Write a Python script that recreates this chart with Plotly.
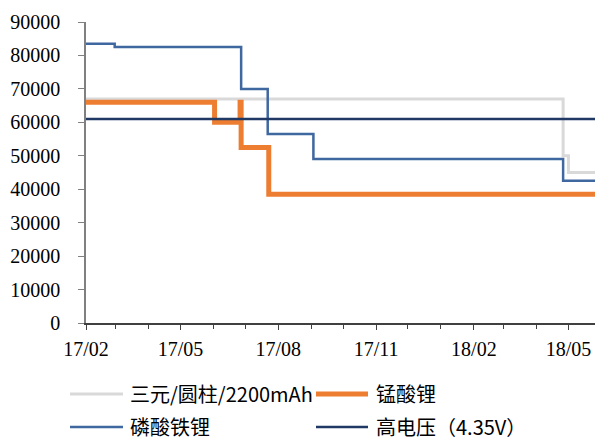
import plotly.graph_objects as go

# ---- data ----
ternary_dates = ["2017-02-01", "2018-04-26", "2018-05-01", "2018-05-26"]
ternary_vals = [67000, 50000, 45000, 45000]

lmo_dates = ["2017-02-01", "2017-06-02", "2017-06-26", "2017-06-27", "2017-07-23", "2018-05-26"]
lmo_vals = [66000, 60000, 66000, 52500, 38500, 38500]

lfp_dates = ["2017-02-01", "2017-02-28", "2017-06-27", "2017-07-22", "2017-09-03", "2018-04-26", "2018-05-26"]
lfp_vals = [83500, 82500, 70000, 56500, 49000, 42500, 42500]

hv_dates = ["2017-02-01", "2018-05-26"]
hv_vals = [61000, 61000]

names = ["三元/圆柱/2200mAh", "锰酸锂", "磷酸铁锂", "高电压（4.35V）"]
colors = ["#d9d9d9", "#ed7d31", "#3f67a0", "#1f3864"]
widths = [3, 5, 2.5, 2.5]
y_ticks = [0, 10000, 20000, 30000, 40000, 50000, 60000, 70000, 80000, 90000]

series = [(ternary_dates, ternary_vals), (lmo_dates, lmo_vals),
          (lfp_dates, lfp_vals), (hv_dates, hv_vals)]

fig = go.Figure()
for (d, v), n, c, w in zip(series, names, colors, widths):
    fig.add_trace(go.Scatter(x=d, y=v, name=n, mode="lines", line_shape="hv",
                             line=dict(color=c, width=w), showlegend=False))

W, H = 595, 441
L, R, T, B = 86, 0, 22, 118
pw, ph = W - L - R, H - T - B

def px(x):
    return (x - L) / pw

def py(y):
    return (H - B - y) / ph

# manual legend
legend_items = [
    (0, 70, 123, 128, 394),
    (1, 316, 368, 374, 394),
    (2, 70, 123, 128, 427),
    (3, 316, 368, 374, 427),
]
shapes = []
annotations = []
for idx, x0, x1, xt, yc in legend_items:
    shapes.append(dict(type="line", xref="paper", yref="paper",
                       x0=px(x0), x1=px(x1), y0=py(yc), y1=py(yc),
                       line=dict(color=colors[idx], width=widths[idx] if idx != 0 else 3)))
    annotations.append(dict(xref="paper", yref="paper", x=px(xt), y=py(yc - 1),
                            xanchor="left", yanchor="middle", showarrow=False,
                            text=names[idx],
                            font=dict(family="Noto Sans CJK SC", size=20, color="#000000")))

fig.update_layout(
    width=W, height=H,
    margin=dict(l=L, r=R, t=T, b=B, pad=0),
    paper_bgcolor="white", plot_bgcolor="white",
    shapes=shapes, annotations=annotations,
    xaxis=dict(type="date", range=["2017-02-01", "2018-05-26"],
               tick0="2017-02-01", dtick="M3", tickformat="%y/%m",
               ticks="outside", ticklen=5, tickcolor="#404040",
               minor=dict(dtick="M1", ticks="outside", ticklen=4, tickcolor="#404040"),
               showline=True, linecolor="#404040", linewidth=1.5,
               showgrid=False, zeroline=False, ticklabelstandoff=2,
               tickfont=dict(family="Liberation Serif", size=20, color="#000000")),
    yaxis=dict(range=[0, 90000], tickvals=y_ticks, ticktext=[str(v) for v in y_ticks],
               ticks="outside", ticklen=6, tickcolor="#808080",
               showline=True, linecolor="#808080", linewidth=1.5,
               showgrid=False, zeroline=False, ticklabelstandoff=14,
               tickfont=dict(family="Liberation Serif", size=20, color="#000000")),
)

fig.write_html("out.html", config={"displayModeBar": False},
               post_script="document.body.style.margin='0px';")
